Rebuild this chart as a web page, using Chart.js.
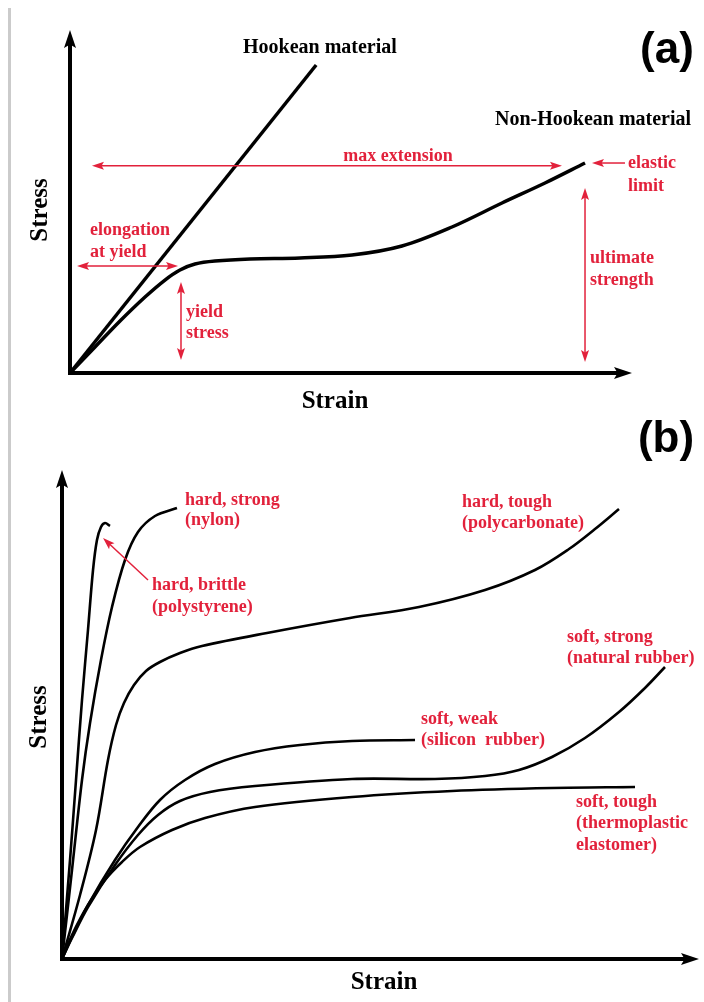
<!DOCTYPE html>
<html>
<head>
<meta charset="utf-8">
<script src="https://cdn.jsdelivr.net/npm/chart.js@4.4.1/dist/chart.umd.min.js"></script>
<style>
  html, body { margin: 0; padding: 0; background: #fff; }
  #wrap { position: relative; width: 704px; height: 1002px; overflow: hidden; background: #fff; }
  #bordaEsq { position: absolute; left: 8px; top: 8px; width: 3px; height: 994px; background: #cbcbcb; }
  #graficoA { position: absolute; left: 0; top: 0; }
  #graficoB { position: absolute; left: 0; top: 420px; }
</style>
</head>
<body>
<div id="wrap">
  <div id="bordaEsq"></div>
  <canvas id="graficoA" width="704" height="420"></canvas>
  <canvas id="graficoB" width="704" height="582"></canvas>
</div>
<script>
// --- Dados do painel (a): curvas tensão x deformação (unidades 0..100) ---
const hookeanX = [0, 43.8];
const hookeanY = [0, 89.8];

const naoHookeanX = [0, 4.45, 8.90, 13.35, 16.90, 19.57, 22.24, 25.80, 32.03, 40.93, 50.18, 59.07, 67.97, 76.87, 84.52, 91.64];
const naoHookeanY = [0, 7.58, 15.16, 22.16, 27.11, 30.03, 31.78, 32.65, 33.24, 33.53, 34.40, 37.03, 42.57, 49.56, 55.39, 61.22];

// --- Dados do painel (b) ---
const poliestirenoX = [0, 1.26, 2.20, 3.14, 4.08, 4.87, 5.49, 6.12, 6.75, 7.54];
const poliestirenoY = [0, 20.25, 36.61, 52.97, 67.28, 79.55, 85.69, 88.34, 89.16, 88.55];

const nylonX = [0, 1.57, 3.14, 4.40, 6.12, 7.85, 9.89, 11.93, 14.60, 18.05];
const nylonY = [0, 18.20, 36.61, 48.26, 61.15, 71.98, 81.60, 87.32, 90.59, 92.23];

const policarbonatoX = [0, 2.83, 5.34, 7.22, 8.48, 9.73, 11.30, 13.19, 15.38, 18.52, 21.98, 32.18, 45.21, 56.04, 66.41, 74.25, 79.59, 83.67, 87.44];
const policarbonatoY = [0, 13.09, 26.38, 40.70, 47.85, 52.35, 56.03, 58.90, 60.74, 62.58, 64.01, 66.67, 69.73, 71.98, 75.46, 79.55, 83.84, 87.93, 92.02];

const siliconeX = [0, 1.57, 4.08, 8.32, 11.93, 15.38, 19.31, 24.02, 30.30, 37.36, 45.53, 55.42];
const siliconeY = [0, 4.50, 11.04, 20.25, 26.99, 32.52, 36.61, 39.88, 42.33, 43.76, 44.58, 44.79];

const borrachaX = [0, 1.57, 4.08, 8.32, 11.93, 15.07, 18.52, 23.23, 30.30, 45.53, 58.56, 66.41, 71.74, 76.92, 82.10, 87.44, 91.52, 94.66];
const borrachaY = [0, 4.29, 10.63, 19.22, 25.36, 29.45, 32.31, 34.15, 35.38, 36.81, 36.81, 37.42, 38.65, 41.31, 45.19, 50.51, 55.42, 59.71];

const termoplasticoX = [0, 1.57, 4.08, 6.75, 9.42, 12.24, 17.27, 22.45, 30.30, 45.53, 61.22, 76.92, 89.95];
const termoplasticoY = [0, 4.91, 11.04, 16.16, 19.84, 22.90, 26.38, 28.83, 31.08, 33.13, 34.36, 34.97, 35.17];

// --- Estilos ---
const PRETO = '#000';
const VERMELHO = '#e2213b';
const FONTE_VERM = 'bold 18px "Liberation Serif"';
const FONTE_PRETA = 'bold 20px "Liberation Serif"';
const FONTE_EIXO = 'bold 25px "Liberation Serif"';
const FONTE_PAINEL = 'bold 44px "Liberation Sans"';

// Junta arrays x e y em pontos
function pontos(xs, ys) {
    return xs.map((x, i) => ({ x: x, y: ys[i] }));
}

// Anotações do painel (a), em unidades dos eixos
const setasA = [
    { x1: 3.91, y1: 60.44, x2: 87.54, y2: 60.44, duplo: true },
    { x1: 98.75, y1: 61.22, x2: 92.88, y2: 61.22, duplo: false },
    { x1: 91.64, y1: 53.94, x2: 91.64, y2: 3.21, duplo: true },
    { x1: 1.25, y1: 31.20, x2: 19.22, y2: 31.20, duplo: true },
    { x1: 19.75, y1: 26.53, x2: 19.75, y2: 3.79, duplo: true }
];

const rotulosA = [
    { texto: 'Hookean material', x: 30.78, y: 94.75, cor: PRETO, fonte: FONTE_PRETA, alinhar: 'left' },
    { texto: 'Non-Hookean material', x: 75.62, y: 73.76, cor: PRETO, fonte: FONTE_PRETA, alinhar: 'left' },
    { texto: '(a)', x: 106.23, y: 93.88, cor: PRETO, fonte: FONTE_PAINEL, alinhar: 'center' },
    { texto: 'Strain', x: 47.15, y: -8.45, cor: PRETO, fonte: FONTE_EIXO, alinhar: 'center' },
    { texto: 'Stress', x: -5.16, y: 47.52, cor: PRETO, fonte: FONTE_EIXO, alinhar: 'center', girar: true },
    { texto: 'max extension', x: 58.36, y: 63.27, cor: VERMELHO, fonte: FONTE_VERM, alinhar: 'center' },
    { texto: 'elastic', x: 99.29, y: 61.22, cor: VERMELHO, fonte: FONTE_VERM, alinhar: 'left' },
    { texto: 'limit', x: 99.29, y: 54.52, cor: VERMELHO, fonte: FONTE_VERM, alinhar: 'left' },
    { texto: 'ultimate', x: 92.53, y: 33.53, cor: VERMELHO, fonte: FONTE_VERM, alinhar: 'left' },
    { texto: 'strength', x: 92.53, y: 27.11, cor: VERMELHO, fonte: FONTE_VERM, alinhar: 'left' },
    { texto: 'elongation', x: 3.56, y: 41.69, cor: VERMELHO, fonte: FONTE_VERM, alinhar: 'left' },
    { texto: 'at yield', x: 3.56, y: 35.28, cor: VERMELHO, fonte: FONTE_VERM, alinhar: 'left' },
    { texto: 'yield', x: 20.64, y: 17.78, cor: VERMELHO, fonte: FONTE_VERM, alinhar: 'left' },
    { texto: 'stress', x: 20.64, y: 11.66, cor: VERMELHO, fonte: FONTE_VERM, alinhar: 'left' }
];

// Anotações do painel (b)
const setasB = [
    { x1: 13.50, y1: 77.51, x2: 6.44, y2: 86.09, duplo: false }
];

const rotulosB = [
    { texto: '(b)', x: 94.82, y: 106.13, cor: PRETO, fonte: FONTE_PAINEL, alinhar: 'center' },
    { texto: 'Strain', x: 50.55, y: -4.91, cor: PRETO, fonte: FONTE_EIXO, alinhar: 'center' },
    { texto: 'Stress', x: -3.45, y: 49.49, cor: PRETO, fonte: FONTE_EIXO, alinhar: 'center', girar: true },
    { texto: 'hard, strong', x: 19.31, y: 93.87, cor: VERMELHO, fonte: FONTE_VERM, alinhar: 'left' },
    { texto: '(nylon)', x: 19.31, y: 89.78, cor: VERMELHO, fonte: FONTE_VERM, alinhar: 'left' },
    { texto: 'hard, brittle', x: 14.13, y: 76.48, cor: VERMELHO, fonte: FONTE_VERM, alinhar: 'left' },
    { texto: '(polystyrene)', x: 14.13, y: 71.98, cor: VERMELHO, fonte: FONTE_VERM, alinhar: 'left' },
    { texto: 'hard, tough', x: 62.79, y: 93.46, cor: VERMELHO, fonte: FONTE_VERM, alinhar: 'left' },
    { texto: '(polycarbonate)', x: 62.79, y: 89.16, cor: VERMELHO, fonte: FONTE_VERM, alinhar: 'left' },
    { texto: 'soft, strong', x: 79.28, y: 65.85, cor: VERMELHO, fonte: FONTE_VERM, alinhar: 'left' },
    { texto: '(natural rubber)', x: 79.28, y: 61.55, cor: VERMELHO, fonte: FONTE_VERM, alinhar: 'left' },
    { texto: 'soft, weak', x: 56.36, y: 49.08, cor: VERMELHO, fonte: FONTE_VERM, alinhar: 'left' },
    { texto: '(silicon  rubber)', x: 56.36, y: 44.79, cor: VERMELHO, fonte: FONTE_VERM, alinhar: 'left' },
    { texto: 'soft, tough', x: 80.69, y: 32.11, cor: VERMELHO, fonte: FONTE_VERM, alinhar: 'left' },
    { texto: '(thermoplastic', x: 80.69, y: 27.81, cor: VERMELHO, fonte: FONTE_VERM, alinhar: 'left' },
    { texto: 'elastomer)', x: 80.69, y: 23.31, cor: VERMELHO, fonte: FONTE_VERM, alinhar: 'left' }
];

// Desenha só a cabeça da seta com ponta em (x, y)
function cabecaSeta(ctx, x, y, ang, comp, meia) {
    ctx.beginPath();
    ctx.moveTo(x, y);
    ctx.lineTo(x - comp * Math.cos(ang) + meia * Math.sin(ang), y - comp * Math.sin(ang) - meia * Math.cos(ang));
    ctx.lineTo(x - comp * 0.8 * Math.cos(ang), y - comp * 0.8 * Math.sin(ang));
    ctx.lineTo(x - comp * Math.cos(ang) - meia * Math.sin(ang), y - comp * Math.sin(ang) + meia * Math.cos(ang));
    ctx.closePath();
    ctx.fill();
}

// Linha com seta (uma ou duas pontas)
function seta(ctx, x1, y1, x2, y2, duplo, cor, largura, comp, meia) {
    const ang = Math.atan2(y2 - y1, x2 - x1);
    const d = comp * 0.7;
    ctx.save();
    ctx.strokeStyle = cor;
    ctx.fillStyle = cor;
    ctx.lineWidth = largura;
    ctx.beginPath();
    ctx.moveTo(duplo ? x1 + d * Math.cos(ang) : x1, duplo ? y1 + d * Math.sin(ang) : y1);
    ctx.lineTo(x2 - d * Math.cos(ang), y2 - d * Math.sin(ang));
    ctx.stroke();
    cabecaSeta(ctx, x2, y2, ang, comp, meia);
    if (duplo) cabecaSeta(ctx, x1, y1, ang + Math.PI, comp, meia);
    ctx.restore();
}

// Plugin que desenha eixos com seta, setas vermelhas e textos
function pluginAnotacoes(setas, rotulos, larguraEixo) {
    return {
        id: 'anotacoes',
        beforeDatasetsDraw(chart) {
            const ctx = chart.ctx;
            const sx = chart.scales.x;
            const sy = chart.scales.y;
            const x0 = sx.getPixelForValue(0);
            const y0 = sy.getPixelForValue(0);
            ctx.save();
            ctx.strokeStyle = PRETO;
            ctx.lineWidth = larguraEixo;
            ctx.lineCap = 'square';
            ctx.beginPath();
            ctx.moveTo(x0, sy.getPixelForValue(100) + 10);
            ctx.lineTo(x0, y0);
            ctx.lineTo(sx.getPixelForValue(100) - 10, y0);
            ctx.stroke();
            ctx.restore();
            seta(ctx, x0, y0 - 20, x0, sy.getPixelForValue(100), false, PRETO, 0.1, 18, 6);
            seta(ctx, x0 + 20, y0, sx.getPixelForValue(100), y0, false, PRETO, 0.1, 18, 6);
        },
        afterDatasetsDraw(chart) {
            const ctx = chart.ctx;
            const sx = chart.scales.x;
            const sy = chart.scales.y;
            setas.forEach(s => {
                seta(ctx, sx.getPixelForValue(s.x1), sy.getPixelForValue(s.y1),
                     sx.getPixelForValue(s.x2), sy.getPixelForValue(s.y2), s.duplo, VERMELHO, 1.5, 12, 4);
            });
            rotulos.forEach(r => {
                const px = sx.getPixelForValue(r.x);
                const py = sy.getPixelForValue(r.y);
                ctx.save();
                ctx.font = r.fonte;
                ctx.fillStyle = r.cor;
                ctx.textAlign = r.alinhar;
                ctx.textBaseline = 'middle';
                ctx.translate(px, py);
                if (r.girar) ctx.rotate(-Math.PI / 2);
                ctx.fillText(r.texto, 0, 0);
                ctx.restore();
            });
        }
    };
}

function serie(xs, ys, largura, tensao) {
    return {
        data: pontos(xs, ys),
        showLine: true,
        borderColor: PRETO,
        borderWidth: largura,
        borderJoinStyle: 'round',
        pointRadius: 0,
        fill: false,
        clip: false,
        tension: tensao
    };
}

function opcoes(padding) {
    return {
        responsive: false,
        animation: false,
        devicePixelRatio: 1,
        events: [],
        layout: { padding: padding },
        scales: {
            x: { type: 'linear', min: 0, max: 100, display: false },
            y: { type: 'linear', min: 0, max: 100, display: false }
        },
        plugins: { legend: { display: false }, tooltip: { enabled: false } }
    };
}

// Painel (a)
new Chart(document.getElementById('graficoA'), {
    type: 'scatter',
    data: {
        datasets: [
            serie(hookeanX, hookeanY, 3.5, 0),
            serie(naoHookeanX, naoHookeanY, 3.5, 0.35)
        ]
    },
    options: opcoes({ left: 70, right: 72, top: 30, bottom: 47 }),
    plugins: [pluginAnotacoes(setasA, rotulosA, 4)]
});

// Painel (b)
new Chart(document.getElementById('graficoB'), {
    type: 'scatter',
    data: {
        datasets: [
            serie(poliestirenoX, poliestirenoY, 2.6, 0.35),
            serie(nylonX, nylonY, 2.6, 0.35),
            serie(policarbonatoX, policarbonatoY, 2.6, 0.35),
            serie(siliconeX, siliconeY, 2.6, 0.35),
            serie(borrachaX, borrachaY, 2.6, 0.35),
            serie(termoplasticoX, termoplasticoY, 2.6, 0.35)
        ]
    },
    options: opcoes({ left: 62, right: 5, top: 50, bottom: 43 }),
    plugins: [pluginAnotacoes(setasB, rotulosB, 4)]
});
</script>
</body>
</html>
